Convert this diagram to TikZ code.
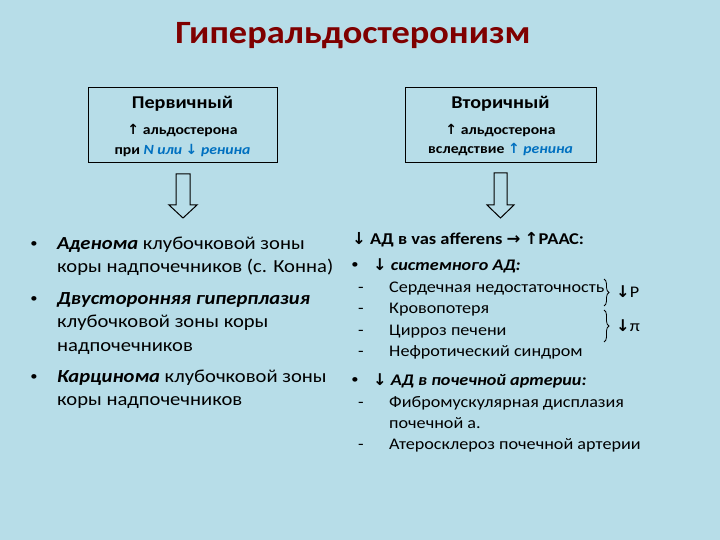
\documentclass[tikz,border=0pt]{standalone}
\usepackage{fontspec}
\setmainfont{Carlito}[FakeStretch=1.12]
\newfontfamily\dv{DejaVu Sans}
\usetikzlibrary{shapes.arrows,decorations.pathreplacing}
\definecolor{bg}{HTML}{B7DDE8}
\definecolor{ttl}{HTML}{7F0000}
\definecolor{bl}{HTML}{0070C0}
\newcommand{\ua}{{\dv\bfseries\char"2191}}
\newcommand{\da}{{\dv\bfseries\char"2193}}
\newcommand{\ra}{{\dv\bfseries\char"2192}}
\tikzset{
  box/.style={draw=black, line width=1.2pt, minimum width=189pt, minimum height=75pt, anchor=north west},
  lt/.style={anchor=west, inner sep=0pt, text height=13pt, text depth=4pt, font=\fontsize{18.4}{20}\selectfont},
  rt/.style={anchor=west, inner sep=0pt, text height=11.5pt, text depth=3.5pt, font=\fontsize{16.2}{18}\selectfont},
  bul/.style={anchor=center, inner sep=0pt, font=\fontsize{13}{14}\selectfont},
  bx/.style={font=\fontsize{14}{16}\selectfont\bfseries},
  hollow/.style={draw=black, line width=1pt, fill=bg},
}
\begin{document}
\begin{tikzpicture}[x=1pt,y=-1pt]
\fill[bg] (0,0) rectangle (720,540);
\useasboundingbox (0,0) rectangle (720,540);
\node[font=\fontsize{32.5}{36}\selectfont\bfseries, text=ttl] (title) at (353,36) {Гиперальдостеронизм};
% boxes
\node[box] (b1) at (88,87) {};
\node[box, minimum width=191pt] (b2) at (405,87) {};
\node[font=\fontsize{18}{20}\selectfont\bfseries] (b1t) at (182.5,104) {Первичный};
\node[bx] (b1a) at (182.5,131) {\ua\ альдостерона};
\node[bx] (b1b) at (182.5,150) {при \textcolor{bl}{\itshape N или \da\ ренина}};
\node[font=\fontsize{18}{20}\selectfont\bfseries] (b2t) at (500.5,104) {Вторичный};
\node[bx] (b2a) at (500.5,131) {\ua\ альдостерона};
\node[bx] (b2b) at (500.5,150) {вследствие \textcolor{bl}{\ua\ \itshape ренина}};
% hollow arrows
\draw[hollow] (176,174) -- (190,174) -- (190,205) -- (197,205) -- (183,218) -- (169,205) -- (176,205) -- cycle;
\draw[hollow] (494,173) -- (507,173) -- (507,205) -- (514,205) -- (500.5,218) -- (487,205) -- (494,205) -- cycle;
% left list
\node[bul] (l0) at (34,245) {•};
\node[lt] (l1) at (57,245) {\textbf{\itshape Аденома} клубочковой зоны};
\node[lt] (l2) at (57,268) {коры надпочечников (с. Конна)};
\node[bul] (l3b) at (34,300) {•};
\node[lt] (l3) at (57,300) {\textbf{\itshape Двусторонняя гиперплазия}};
\node[lt] (l4) at (57,323) {клубочковой зоны коры};
\node[lt] (l5) at (57,347) {надпочечников};
\node[bul] (l6b) at (34,378) {•};
\node[lt] (l6) at (57,378) {\textbf{\itshape Карцинома} клубочковой зоны};
\node[lt] (l7) at (57,401) {коры надпочечников};
% right list
\node[rt, font=\fontsize{16.5}{18}\selectfont\bfseries] (r0) at (352,240) {\da\ АД в vas afferens \ra\ \ua РААС:};
\node[bul] (r1b) at (355,266) {•};
\node[rt] (r1) at (373,266) {\textbf{\da\ \itshape системного АД:}};
\node[rt] (d1) at (358,288) {-};
\node[rt] (r2) at (389,288) {Сердечная недостаточность};
\node[rt] (d2) at (358,309) {-};
\node[rt] (r3) at (389,309) {Кровопотеря};
\node[rt] (d3) at (358,331) {-};
\node[rt] (r4) at (389,331) {Цирроз печени};
\node[rt] (d4) at (358,352) {-};
\node[rt] (r5) at (389,352) {Нефротический синдром};
\coordinate (br1t) at (604,279);
\coordinate (br1b) at (604,306);
\coordinate (br2t) at (604,310);
\coordinate (br2b) at (604,342);
\draw[line width=0.8pt, decorate, decoration={brace, amplitude=5pt}] (br1t) -- (br1b);
\draw[line width=0.8pt, decorate, decoration={brace, amplitude=5pt}] (br2t) -- (br2b);
\node[rt] (p1) at (616,293) {\da Р};
\node[rt] (p2) at (616,327) {\da π};
\node[bul] (r6b) at (355,381) {•};
\node[rt] (r6) at (373,381) {\textbf{\da\ \itshape АД в почечной артерии:}};
\node[rt] (d6) at (358,403) {-};
\node[rt] (r7) at (389,403) {Фибромускулярная дисплазия};
\node[rt] (r8) at (389,424) {почечной а.};
\node[rt] (d8) at (358,445) {-};
\node[rt] (r9) at (389,445) {Атеросклероз почечной артерии};
\end{tikzpicture}
\end{document}
